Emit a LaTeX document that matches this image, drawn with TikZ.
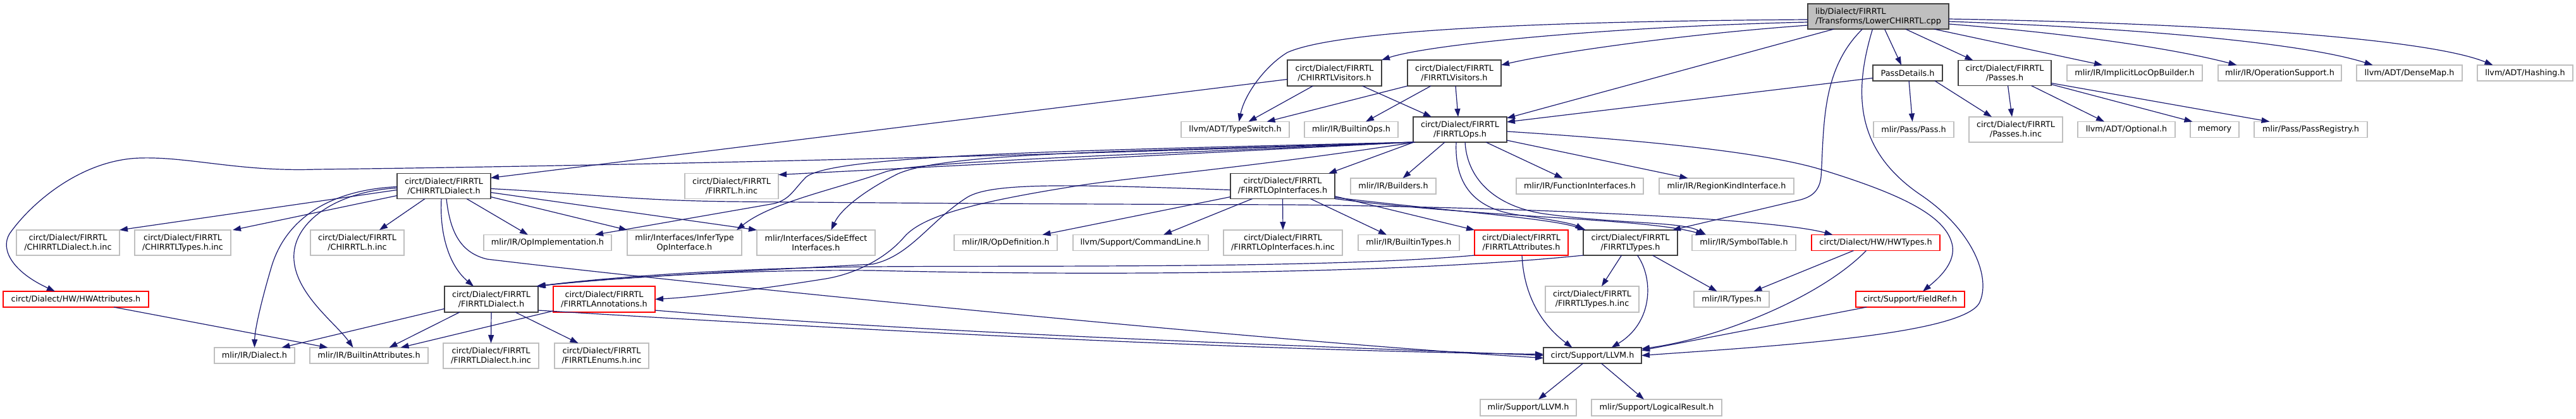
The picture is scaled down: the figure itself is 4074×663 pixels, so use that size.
\documentclass[tikz,border=0pt]{standalone}
\usepackage{fontspec}
\setmainfont{DejaVu Sans}
\usetikzlibrary{arrows.meta}
\definecolor{edgec}{HTML}{191970}
\definecolor{extc}{HTML}{BFBFBF}
\definecolor{docc}{HTML}{404040}
\definecolor{truncc}{HTML}{FF0000}
\tikzset{
  nbase/.style={draw, line width=1.3pt, inner sep=0pt, outer sep=0pt, align=center, text=black,
    font=\fontsize{12.8}{15}\selectfont},
  gbox/.style={nbase, draw=extc},
  dbox/.style={nbase, draw=docc},
  rbox/.style={nbase, draw=truncc},
  topbox/.style={nbase, draw=docc, fill=extc, align=left},
  dep/.style={draw=edgec, line width=1.2pt, -{Triangle[length=13pt,width=9pt]}},
}
\begin{document}
\begin{tikzpicture}[x=1pt,y=-1pt]
\useasboundingbox (0,0) rectangle (4074,663);
% Row 1
\node[topbox, minimum width=223pt, minimum height=40pt] (R) at (2970.5,26) {lib/Dialect/FIRRTL\\/Transforms/LowerCHIRRTL.cpp};
% Row 2
\node[dbox, minimum width=149pt, minimum height=41pt] (CV) at (2110.5,115.5) {circt/Dialect/FIRRTL\\/CHIRRTLVisitors.h};
\node[dbox, minimum width=148pt, minimum height=41pt] (FV) at (2300,115.5) {circt/Dialect/FIRRTL\\/FIRRTLVisitors.h};
\node[dbox, minimum width=110pt, minimum height=25pt] (PD) at (3017,115.5) {PassDetails.h};
\node[dbox, minimum width=147pt, minimum height=40pt] (PH) at (3170.5,115.5) {circt/Dialect/FIRRTL\\/Passes.h};
\node[gbox, minimum width=214pt, minimum height=25pt] (ILB) at (3376,115.5) {mlir/IR/ImplicitLocOpBuilder.h};
\node[gbox, minimum width=195pt, minimum height=25pt] (OS) at (3605.5,115.5) {mlir/IR/OperationSupport.h};
\node[gbox, minimum width=167pt, minimum height=25pt] (DM) at (3810.5,115.5) {llvm/ADT/DenseMap.h};
\node[gbox, minimum width=151pt, minimum height=25pt] (HS) at (3993.5,115.5) {llvm/ADT/Hashing.h};
% Row 3
\node[gbox, minimum width=171pt, minimum height=25pt] (TS) at (1953.5,205) {llvm/ADT/TypeSwitch.h};
\node[gbox, minimum width=148pt, minimum height=25pt] (BO) at (2137,205) {mlir/IR/BuiltinOps.h};
\node[dbox, minimum width=148pt, minimum height=40pt] (FO) at (2309,205) {circt/Dialect/FIRRTL\\/FIRRTLOps.h};
\node[gbox, minimum width=127pt, minimum height=25pt] (PS) at (3026.5,205) {mlir/Pass/Pass.h};
\node[gbox, minimum width=148pt, minimum height=40pt] (PHI) at (3188,205) {circt/Dialect/FIRRTL\\/Passes.h.inc};
\node[gbox, minimum width=154pt, minimum height=25pt] (OPT) at (3363,205) {llvm/ADT/Optional.h};
\node[gbox, minimum width=77pt, minimum height=25pt] (MEM) at (3502.5,205) {memory};
\node[gbox, minimum width=179pt, minimum height=25pt] (PR) at (3654.5,205) {mlir/Pass/PassRegistry.h};
% Row 4
\node[dbox, minimum width=148pt, minimum height=40pt] (CD) at (702,294.5) {circt/Dialect/FIRRTL\\/CHIRRTLDialect.h};
\node[gbox, minimum width=148pt, minimum height=40pt] (FHI) at (1157,294.5) {circt/Dialect/FIRRTL\\/FIRRTL.h.inc};
\node[dbox, minimum width=165pt, minimum height=40pt] (OI) at (2028.5,294.5) {circt/Dialect/FIRRTL\\/FIRRTLOpInterfaces.h};
\node[gbox, minimum width=135pt, minimum height=25pt] (BL) at (2203.5,294.5) {mlir/IR/Builders.h};
\node[gbox, minimum width=201pt, minimum height=25pt] (FI) at (2498.5,294.5) {mlir/IR/FunctionInterfaces.h};
\node[gbox, minimum width=213pt, minimum height=25pt] (RK) at (2730.5,294.5) {mlir/IR/RegionKindInterface.h};
% Row 5
\node[gbox, minimum width=163pt, minimum height=40pt] (CDI) at (107.5,384) {circt/Dialect/FIRRTL\\/CHIRRTLDialect.h.inc};
\node[gbox, minimum width=152pt, minimum height=40pt] (CTI) at (289,384) {circt/Dialect/FIRRTL\\/CHIRRTLTypes.h.inc};
\node[gbox, minimum width=148pt, minimum height=40pt] (CHI) at (565,384) {circt/Dialect/FIRRTL\\/CHIRRTL.h.inc};
\node[gbox, minimum width=202pt, minimum height=25pt] (OPI) at (866,384) {mlir/IR/OpImplementation.h};
\node[gbox, minimum width=181pt, minimum height=40pt] (IT) at (1082.5,384) {mlir/Interfaces/InferType\\OpInterface.h};
\node[gbox, minimum width=187pt, minimum height=40pt] (SE) at (1290.5,384) {mlir/Interfaces/SideEffect\\Interfaces.h};
\node[gbox, minimum width=163pt, minimum height=25pt] (OD) at (1590.5,384) {mlir/IR/OpDefinition.h};
\node[gbox, minimum width=214pt, minimum height=25pt] (CL) at (1804,384) {llvm/Support/CommandLine.h};
\node[gbox, minimum width=188pt, minimum height=40pt] (OII) at (2029,384) {circt/Dialect/FIRRTL\\/FIRRTLOpInterfaces.h.inc};
\node[gbox, minimum width=160pt, minimum height=25pt] (BT) at (2228,384) {mlir/IR/BuiltinTypes.h};
\node[rbox, minimum width=148pt, minimum height=40pt] (FA) at (2406,384) {circt/Dialect/FIRRTL\\/FIRRTLAttributes.h};
\node[dbox, minimum width=149pt, minimum height=40pt] (FT) at (2578.5,384) {circt/Dialect/FIRRTL\\/FIRRTLTypes.h};
\node[gbox, minimum width=164pt, minimum height=25pt] (ST) at (2758,384) {mlir/IR/SymbolTable.h};
\node[rbox, minimum width=203pt, minimum height=25pt] (HT) at (2966.5,384) {circt/Dialect/HW/HWTypes.h};
% Row 6
\node[rbox, minimum width=230pt, minimum height=25pt] (HA) at (120,473.5) {circt/Dialect/HW/HWAttributes.h};
\node[dbox, minimum width=148pt, minimum height=41pt] (FD) at (777,473.5) {circt/Dialect/FIRRTL\\/FIRRTLDialect.h};
\node[rbox, minimum width=161pt, minimum height=41pt] (AN) at (955.5,473.5) {circt/Dialect/FIRRTL\\/FIRRTLAnnotations.h};
\node[gbox, minimum width=148pt, minimum height=41pt] (FTI) at (2518,473.5) {circt/Dialect/FIRRTL\\/FIRRTLTypes.h.inc};
\node[gbox, minimum width=119pt, minimum height=25pt] (TY) at (2738.5,473.5) {mlir/IR/Types.h};
\node[rbox, minimum width=172pt, minimum height=25pt] (FR) at (3021,473.5) {circt/Support/FieldRef.h};
% Row 7
\node[gbox, minimum width=127pt, minimum height=25pt] (DI) at (402.5,562.5) {mlir/IR/Dialect.h};
\node[gbox, minimum width=187pt, minimum height=25pt] (BA) at (583.5,562.5) {mlir/IR/BuiltinAttributes.h};
\node[gbox, minimum width=151pt, minimum height=40pt] (FDI) at (776.5,563) {circt/Dialect/FIRRTL\\/FIRRTLDialect.h.inc};
\node[gbox, minimum width=149pt, minimum height=40pt] (EN) at (951.5,563) {circt/Dialect/FIRRTL\\/FIRRTLEnums.h.inc};
\node[dbox, minimum width=155pt, minimum height=25pt] (LL) at (2518.5,562.5) {circt/Support/LLVM.h};
% Row 8
\node[gbox, minimum width=152pt, minimum height=26pt] (ML) at (2417,645) {mlir/Support/LLVM.h};
\node[gbox, minimum width=206pt, minimum height=26pt] (LR) at (2620,645) {mlir/Support/LogicalResult.h};

% ---- edges from root
\draw[dep] ([yshift=-5pt]R.west) .. controls (2400,34) and (2110,50) .. (2036,83) .. controls (2000,105) and (1968,150) .. ([xshift=6pt]TS.north);
\draw[dep] ([yshift=-9pt]R.west) .. controls (2550,42) and (2260,70) .. (CV.north east);
\draw[dep] ([yshift=-14pt]R.west) .. controls (2650,55) and (2450,85) .. ([yshift=-8pt]FV.north east);
\draw[dep] ([xshift=-70pt]R.south) -- ([yshift=-2pt]FO.north east);
\draw[dep] ([xshift=-25pt]R.south) .. controls (2880,110) and (2885,200) .. (2880,280) .. controls (2877,305) and (2862,312) .. (2848,316) -- ([xshift=-8pt]FT.north east);
\draw[dep] ([xshift=-9pt]R.south) .. controls (2930,150) and (2935,240) .. (3040,310) .. controls (3120,365) and (3150,440) .. (3130,480) .. controls (3100,530) and (2800,548) .. (LL.east);
\draw[dep] ([xshift=10pt]R.south) -- ([xshift=-10pt]PD.north);
\draw[dep] ([xshift=43pt]R.south) -- ([xshift=-50pt]PH.north);
\draw[dep] ([xshift=88pt]R.south) -- ([xshift=-51pt]ILB.north);
\draw[dep] ([yshift=-12pt]R.east) .. controls (3300,55) and (3450,80) .. ([xshift=-68pt]OS.north);
\draw[dep] ([yshift=-8pt]R.east) .. controls (3400,45) and (3650,70) .. ([xshift=-58pt]DM.north);
\draw[dep] ([yshift=-4pt]R.east) .. controls (3550,38) and (3850,65) .. ([xshift=-51pt]HS.north);
% ---- CHIRRTLVisitors
\draw[dep] ([yshift=-10pt]CV.west) -- ([yshift=-7pt]CD.north east);
\draw[dep] ([xshift=-34pt]CV.south) -- ([xshift=21pt]TS.north);
\draw[dep] ([xshift=44pt]CV.south) -- ([xshift=-45pt]FO.north);
% ---- FIRRTLVisitors
\draw[dep] (FV.south west) -- ([xshift=50pt]TS.north);
\draw[dep] ([xshift=-37pt]FV.south) -- ([xshift=23pt]BO.north);
\draw[dep] ([xshift=2pt]FV.south) -- ([xshift=-3pt]FO.north);
% ---- PassDetails
\draw[dep] ([yshift=-8pt]PD.west) -- ([yshift=-8pt]FO.north east);
\draw[dep] ([xshift=2pt]PD.south) -- ([xshift=-2pt]PS.north);
\draw[dep] ([xshift=43pt]PD.south) -- ([xshift=-38pt]PHI.north);
% ---- Passes.h
\draw[dep] ([xshift=5pt]PH.south) -- ([xshift=-6pt]PHI.north);
\draw[dep] ([xshift=42pt]PH.south) -- ([xshift=-35pt]OPT.north);
\draw[dep] ([yshift=2pt]PH.south east) -- ([xshift=-35pt]MEM.north);
\draw[dep] ([yshift=4pt]PH.south east) -- ([xshift=-65pt]PR.north);
% ---- FIRRTLOps
\draw[dep] (FO.south west) .. controls (1700,245) and (1000,262) .. (500,268) .. controls (380,272) and (300,248) .. (223,250) .. controls (130,252) and (50,320) .. (15,370) .. controls (0,395) and (20,430) .. ([xshift=-33pt]HA.north);
\draw[dep] (FO.south west) -- ([yshift=-2pt]FHI.north east);
\draw[dep] (FO.south west) .. controls (1700,238) and (1320,245) .. (1275,280) .. controls (1255,300) and (1250,315) .. (1225,322) -- ([xshift=75pt]OPI.north);
\draw[dep] (FO.south west) .. controls (1800,245) and (1450,255) .. (1400,272) .. controls (1320,300) and (1220,320) .. ([xshift=-8pt]IT.north east);
\draw[dep] (FO.south west) .. controls (1800,240) and (1500,240) .. (1420,275) .. controls (1370,300) and (1330,330) .. ([xshift=24pt]SE.north);
\draw[dep] ([xshift=3pt]FO.south west) .. controls (2000,262) and (1800,280) .. (1717,292) .. controls (1550,318) and (1460,340) .. (1430,375) .. controls (1400,410) and (1350,435) .. (1300,442) .. controls (1200,458) and (1100,470) .. (AN.east);
\draw[dep] ([xshift=1pt]FO.south west) -- ([xshift=-10pt]OI.north east);
\draw[dep] ([xshift=-24pt]FO.south) -- ([xshift=15pt]BL.north);
\draw[dep] ([xshift=41pt]FO.south) -- ([xshift=-27pt]FI.north);
\draw[dep] ([yshift=3pt]FO.south east) -- ([xshift=-61pt]RK.north);
\draw[dep] ([xshift=-6pt]FO.south) .. controls (2300,290) and (2330,330) .. (2400,340) .. controls (2460,348) and (2490,355) .. (FT.north west);
\draw[dep] ([xshift=8pt]FO.south) .. controls (2320,280) and (2360,325) .. (2440,338) .. controls (2560,355) and (2660,350) .. ([xshift=-60pt]ST.north);
\draw[dep] ([yshift=-3pt]FO.east) .. controls (2650,225) and (2800,245) .. (2876,267) .. controls (3000,305) and (3080,340) .. (3088,390) .. controls (3092,420) and (3060,445) .. ([xshift=20pt]FR.north);
% ---- FIRRTLOpInterfaces
\draw[dep] ([yshift=3pt]OI.south west) -- ([xshift=58pt]OD.north);
\draw[dep] ([xshift=-48pt]OI.south) -- ([xshift=36pt]CL.north);
\draw[dep] (OI.south) -- (OII.north);
\draw[dep] ([xshift=44pt]OI.south) -- ([xshift=-35pt]BT.north);
\draw[dep] ([yshift=4pt]OI.south east) -- (FA.north west);
\draw[dep] ([yshift=2pt]OI.south east) .. controls (2300,335) and (2450,345) .. ([xshift=4pt]FT.north west);
\draw[dep] (OI.south east) .. controls (2350,345) and (2600,345) .. ([xshift=-63pt]ST.north);
\draw[dep] ([yshift=-6pt]OI.west) .. controls (1700,292) and (1570,288) .. (1530,312) .. controls (1470,350) and (1440,405) .. (1380,418) .. controls (1200,428) and (950,440) .. ([xshift=-1pt]FD.north east);
% ---- FIRRTLAttributes
\draw[dep] (FA.south west) .. controls (2100,425) and (1650,420) .. (1380,422) .. controls (1150,424) and (950,440) .. ([xshift=-2pt]FD.north east);
\draw[dep] ([xshift=1pt]FA.south) .. controls (2410,470) and (2440,515) .. ([xshift=-32pt]LL.north);
% ---- FIRRTLTypes
\draw[dep] (FT.south west) .. controls (2200,435) and (1700,436) .. (1380,428) .. controls (1150,426) and (950,442) .. ([xshift=-3pt]FD.north east);
\draw[dep] ([xshift=-14pt]FT.south) -- ([xshift=15pt]FTI.north);
\draw[dep] ([xshift=11pt]FT.south) .. controls (2615,440) and (2615,510) .. ([xshift=30pt]LL.north);
\draw[dep] ([xshift=35pt]FT.south) -- ([xshift=-23pt]TY.north);
% ---- HWTypes
\draw[dep] ([xshift=-35pt]HT.south) -- ([xshift=35pt]TY.north);
\draw[dep] ([xshift=-15pt]HT.south) .. controls (2880,470) and (2720,535) .. ([yshift=-2pt]LL.north east);
% ---- FieldRef
\draw[dep] ([xshift=-69pt]FR.south) -- ([yshift=8pt]LL.east);
% ---- HWAttributes
\draw[dep] ([xshift=60pt]HA.south) -- ([xshift=-65pt]BA.north);
% ---- FIRRTLDialect
\draw[dep] ([yshift=-15pt]FD.west) -- ([xshift=43pt]DI.north);
\draw[dep] ([xshift=-50pt]FD.south) -- ([xshift=32pt]BA.north);
\draw[dep] (FD.south) -- (FDI.north);
\draw[dep] ([xshift=38pt]FD.south) -- ([xshift=-37pt]EN.north);
\draw[dep] ([yshift=3pt]FD.south east) .. controls (1400,525) and (2000,555) .. ([yshift=2pt]LL.west);
% ---- FIRRTLAnnotations
\draw[dep] ([yshift=2pt]AN.south west) -- ([xshift=50pt]BA.north);
\draw[dep] ([yshift=3pt]AN.south east) .. controls (1500,530) and (2100,548) .. (LL.west);
% ---- CHIRRTLDialect
\draw[dep] ([yshift=-6pt]CD.west) -- (CDI.north east);
\draw[dep] ([yshift=-15pt]CD.west) -- ([xshift=3pt]CTI.north east);
\draw[dep] ([xshift=-30pt]CD.south) -- ([xshift=35pt]CHI.north);
\draw[dep] ([yshift=-1pt]CD.west) .. controls (530,300) and (455,340) .. (430,420) .. controls (415,470) and (403,520) .. (DI.north);
\draw[dep] ([yshift=-3pt]CD.west) .. controls (540,302) and (470,345) .. (465,400) .. controls (460,460) and (530,510) .. ([xshift=-25pt]BA.north);
\draw[dep] ([xshift=-4pt]CD.south) .. controls (695,370) and (710,420) .. ([xshift=-28pt]FD.north);
\draw[dep] ([xshift=4pt]CD.south) .. controls (712,370) and (730,400) .. (770,410) .. controls (1100,450) and (2000,540) .. ([yshift=-4pt]LL.west);
\draw[dep] ([xshift=36pt]CD.south) -- ([xshift=-31pt]OPI.north);
\draw[dep] ([yshift=-17pt]CD.east) -- (IT.north west);
\draw[dep] ([yshift=-10pt]CD.east) -- (SE.north west);
\draw[dep] ([yshift=-4pt]CD.east) .. controls (950,308) and (1000,317) .. (1157,319) .. controls (1500,322) and (1700,323) .. (2040,324) .. controls (2400,328) and (2800,345) .. ([xshift=-68pt]HT.north);
% ---- circt/Support/LLVM.h
\draw[dep] ([xshift=-15pt]LL.south) -- ([xshift=16pt]ML.north);
\draw[dep] ([xshift=14pt]LL.south) -- ([xshift=-20pt]LR.north);
\end{tikzpicture}
\end{document}
